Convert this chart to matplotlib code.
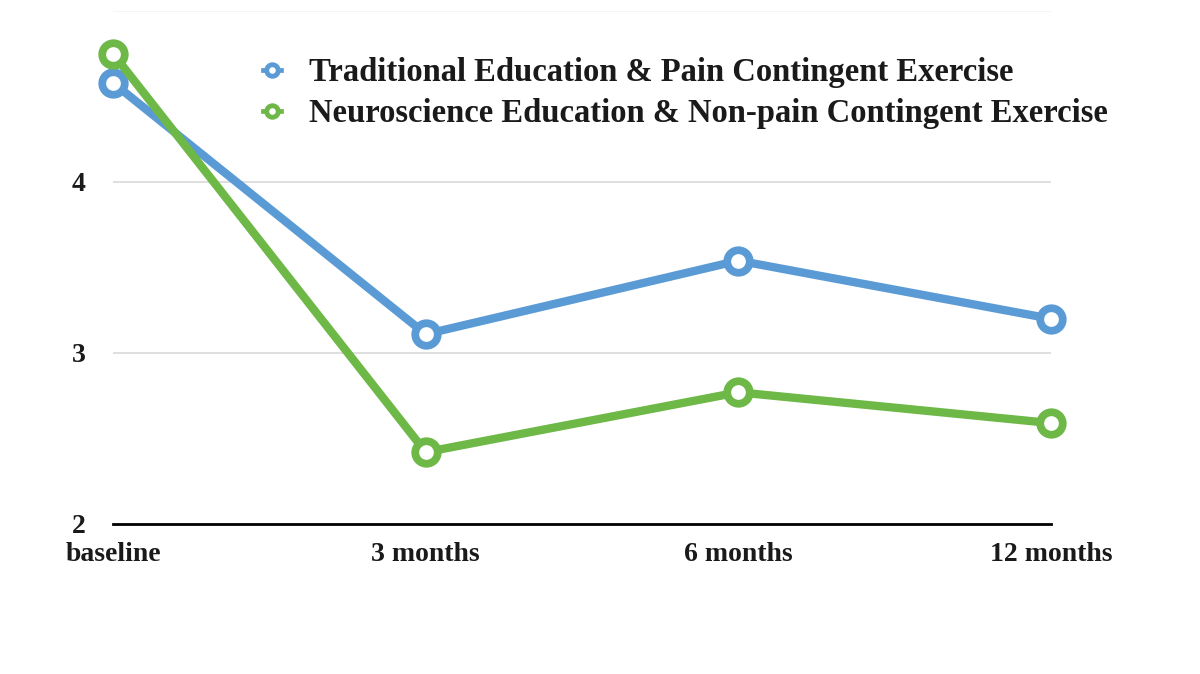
import matplotlib
matplotlib.use('Agg')
from matplotlib import pyplot as plt
from matplotlib.lines import Line2D

# data
timepoints = ['baseline', '3 months', '6 months', '12 months']
traditional = [4.58, 3.11, 3.54, 3.20]
neuroscience = [4.75, 2.42, 2.77, 2.59]
series_names = ['Traditional Education & Pain Contingent Exercise',
                'Neuroscience Education & Non-pain Contingent Exercise']
yticks = [2, 3, 4]

blue = '#5B9BD5'
green = '#6DB847'

plt.rcParams['font.family'] = ['Liberation Serif', 'DejaVu Serif']
plt.rcParams['font.weight'] = 'bold'

fig = plt.figure(figsize=(12, 6.74), dpi=100)
ax = fig.add_axes([0.0942, 0.2226, 0.7817, 0.7611])

x = range(len(timepoints))
for vals, col in [(traditional, blue), (neuroscience, green)]:
    ax.plot(x, vals, color=col, lw=6.0, marker='o', ms=16.2, mfc='white',
            mec=col, mew=5.6, clip_on=False, zorder=3)

ax.set_xlim(0, 3)
ax.set_ylim(2, 5)
ax.set_yticks(yticks)
ax.set_xticks(list(x))
ax.set_xticklabels(timepoints)
for g in yticks[1:]:
    ax.axhline(g, color='#d9d9d9', lw=1.2, zorder=1)
ax.axhline(5, color='#f2f2f2', lw=1.2, zorder=1)

for s in ['top', 'right', 'left']:
    ax.spines[s].set_visible(False)
ax.spines['bottom'].set_color('black')
ax.spines['bottom'].set_linewidth(2)
ax.tick_params(axis='both', length=0, labelsize=20, colors='#1a1a1a')
ax.tick_params(axis='y', pad=20)
ax.tick_params(axis='x', pad=13)
for lab in ax.get_xticklabels() + ax.get_yticklabels():
    lab.set_fontweight('bold')

handles = [Line2D([], [], color=c, lw=3.4, marker='o', ms=8.3, mfc='white', mec=c, mew=3.5)
           for c in (blue, green)]
leg = ax.legend(handles, series_names, loc='upper left', bbox_to_anchor=(0.1285, 0.967),
                frameon=False, handlelength=0.55, handletextpad=0.86,
                labelspacing=0.3, prop={'size': 23.5, 'weight': 'bold'})
for t in leg.get_texts():
    t.set_color('#1a1a1a')

fig.savefig('out.png', dpi=100)
